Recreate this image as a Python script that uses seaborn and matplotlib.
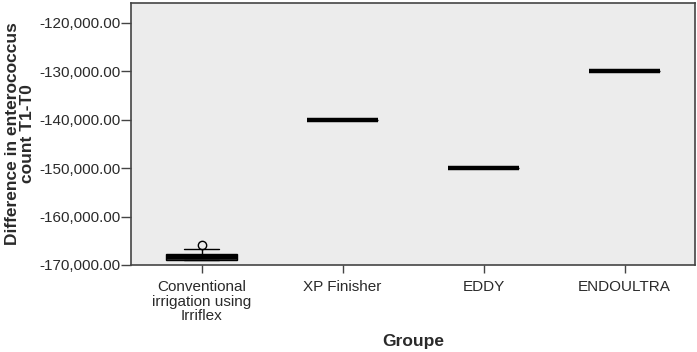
import numpy as np
import pandas as pd
import matplotlib
matplotlib.use("Agg")
import matplotlib.pyplot as plt
import matplotlib.ticker as mticker
import seaborn as sns

# Data
groups = ["Conventional\nirrigation using\nIrriflex", "XP Finisher", "EDDY", "ENDOULTRA"]
irriflex = [-168900, -168900, -168900, -168300, -168300, -167700, -167700, -166700, -165800]
xp_finisher = [-140000, -140000, -140000]
eddy = [-150000, -150000, -150000]
endoultra = [-130000, -130000, -130000]
y_ticks = [-170000, -160000, -150000, -140000, -130000, -120000]

series = [irriflex, xp_finisher, eddy, endoultra]
df = pd.DataFrame({
    "Groupe": [g for g, vals in zip(groups, series) for _ in vals],
    "value": [v for vals in series for v in vals],
})

sns.set_theme(style="white")
plt.rcParams["font.family"] = ["Liberation Sans", "DejaVu Sans"]

fig = plt.figure(figsize=(6.97, 3.52), dpi=100)
ax = fig.add_axes([131/697, 1 - 265/352, (695 - 131)/697, (265 - 3)/352])
ax.set_facecolor("#ECECEC")

sns.boxplot(
    data=df, x="Groupe", y="value", order=groups, ax=ax,
    width=0.5, color="#3a3a3a", linecolor="black", linewidth=1,
    medianprops=dict(linewidth=3.2, color="black"),
    flierprops=dict(marker="o", markerfacecolor="none", markeredgecolor="black",
                    markersize=6, markeredgewidth=1),
    whis=1.5,
)

ax.set_xlim(-0.5, 3.5)
ax.set_ylim(-170000, -115900)
ax.set_yticks(y_ticks)
ax.yaxis.set_major_formatter(mticker.FuncFormatter(lambda v, p: f"{v:,.2f}"))

for s in ax.spines.values():
    s.set_visible(True)
    s.set_color("#444444")
    s.set_linewidth(1.2)

ax.tick_params(axis="y", direction="out", length=7, width=1, color="#444444",
               labelsize=11, labelcolor="#2a2a2a", left=True, pad=0.5)
ax.tick_params(axis="x", direction="out", length=6, width=1, color="#444444",
               labelsize=11, labelcolor="#2a2a2a", bottom=True, pad=5)
for lbl in ax.get_xticklabels():
    lbl.set_linespacing(1.05)

ax.set_xlabel("Groupe", fontsize=12.5, fontweight="bold", color="#2a2a2a", labelpad=8)
ax.set_ylabel("Difference in enterococcus\ncount T1-T0", fontsize=12.5,
              fontweight="bold", color="#2a2a2a", labelpad=3, linespacing=1.0)

fig.savefig("out.png", dpi=100)
